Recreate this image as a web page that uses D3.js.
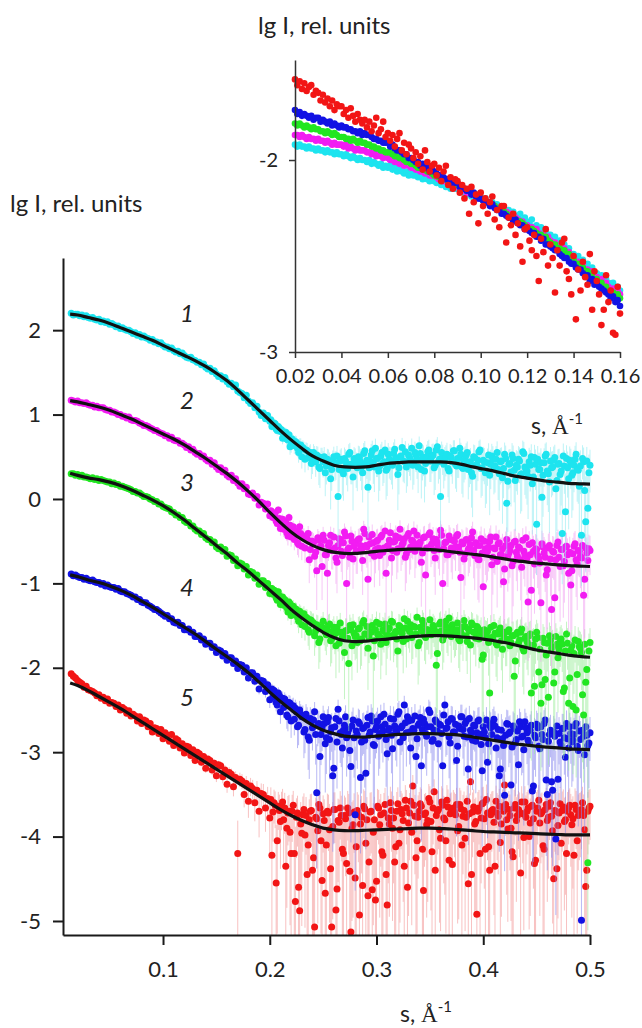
<!DOCTYPE html>
<html>
<head>
<meta charset="utf-8">
<script src="https://cdn.jsdelivr.net/npm/d3@7"></script>
<style>
  body { margin: 0; background: #fff; }
  svg { display: block; }
  text { font-family: Lato, "Open Sans", sans-serif; fill: #222; }
</style>
</head>
<body>
<svg id="chart" width="642" height="1028"></svg>
<script>
// ---- Scattering curves, lg I versus s (Å^-1) ----
// Main panel: measured points on a regular s grid, curves shifted apart for clarity.
const mainStart = 0.014, mainStep = 0.002;
const main1 = [
  2.20,2.18,2.19,2.19,2.17, 2.18,2.16,2.17,2.15,2.14, 2.15,2.13,2.12,2.13,2.10, 2.11,2.09,2.10,2.07,2.08,
  2.06,2.04,2.05,2.02,2.03, 2.01,2.00,2.00,1.98,1.96, 1.97,1.94,1.95,1.92,1.93, 1.91,1.90,1.88,1.89,1.86,
  1.86,1.84,1.85,1.82,1.80, 1.80,1.78,1.79,1.76,1.74, 1.75,1.72,1.73,1.70,1.68, 1.67,1.68,1.65,1.64,1.62,
  1.62,1.59,1.60,1.56,1.54, 1.55,1.51,1.52,1.48,1.45, 1.46,1.42,1.44,1.39,1.36, 1.37,1.33,1.35,1.28,1.26,
  1.25,1.20,1.23,1.16,1.13, 1.14,1.08,1.10,1.03,0.99, 1.02,0.95,0.99,0.92,0.86, 0.90,0.83,0.86,0.80,0.72,
  0.79,0.71,0.76,0.64,0.69, 0.68,0.60,0.64,0.50,0.59, 0.58,0.49,0.55,0.46,0.52, 0.52,0.38,0.49,0.44,0.31,
  0.47,0.41,0.35,0.50,0.43, 0.03,0.45,0.33,0.48,0.40, 0.53,0.41,0.26,0.46,0.37, 0.49,0.38,0.54,0.42,0.14,
  0.45,0.57,0.38,0.48,0.33, 0.51,0.42,0.58,0.36,0.47, 0.43,0.54,0.47,0.29,0.50, 0.61,0.44,0.38,0.52,0.46,
  0.40,0.55,0.47,0.63,0.35, 0.49,0.42,0.56,0.45,0.51, 0.37,0.58,0.44,0.03,0.50, 0.46,0.53,0.33,0.49,0.57,
  0.41,0.48,0.60,0.38,0.45, 0.52,0.35,0.44,0.27,0.49, 0.40,0.56,0.36,0.46,0.31, 0.43,0.28,0.51,0.38,0.47,
  0.35,0.44,0.25,0.53,-0.05, 0.41,0.32,0.48,0.22,0.38, 0.45,0.30,0.54,0.36,0.27, 0.40,0.18,0.49,-0.30,0.35,
  0.43,0.28,0.51,0.33,0.20, 0.37,0.46,0.12,0.41,0.29, -0.41,0.39,0.48,0.24,0.42, 0.31,0.47,0.35,0.15,-0.43,
  0.44,-0.27,-0.11,0.40
];
const main2 = [
  1.17,1.16,1.15,1.16,1.14, 1.14,1.13,1.14,1.12,1.11, 1.11,1.09,1.10,1.08,1.08, 1.08,1.06,1.05,1.05,1.03,
  1.03,1.02,1.00,1.00,0.98, 0.98,0.96,0.97,0.94,0.93, 0.93,0.92,0.90,0.89,0.87, 0.87,0.86,0.84,0.83,0.81,
  0.81,0.79,0.78,0.77,0.75, 0.75,0.72,0.73,0.70,0.69, 0.69,0.66,0.66,0.64,0.61, 0.62,0.58,0.59,0.55,0.53,
  0.54,0.50,0.51,0.47,0.45, 0.46,0.41,0.43,0.38,0.35, 0.37,0.32,0.34,0.28,0.26, 0.28,0.22,0.24,0.19,0.15,
  0.18,0.12,0.14,0.06,0.05, 0.07,0.01,0.03,-0.07,-0.04, -0.05,-0.12,-0.06,-0.20,-0.15, -0.18,-0.26,-0.13,-0.35,-0.24,
  -0.27,-0.40,-0.22,-0.45,-0.33, -0.38,-0.52,-0.33,-0.56,-0.44, -0.47,-0.41,-0.60,-0.50,-0.68, -0.85,-0.49,-0.56,-0.43,-0.66,
  -0.88,-0.52,-0.61,-0.45,-0.70, -0.55,-0.48,-0.67,-0.39,-1.00, -0.58,-0.44,-0.71,-0.51,-0.62, -0.47,-0.60,-0.36,-0.55,-0.95,
  -0.53,-0.42,-0.68,-0.50,-0.58, -0.45,-0.63,-0.38,-0.56,-0.49, -0.70,-0.51,-0.44,-0.59,-0.36, -0.54,-0.47,-0.65,-0.41,-0.57,
  -0.50,-0.62,-0.43,-0.55,-0.75, -0.46,-0.90,-0.58,-0.40,-0.53, -0.61,-0.48,-0.56,-0.37,-1.00, -0.52,-0.66,-0.44,-0.58,-0.49,
  -0.57,-0.42,-0.63,-0.51,-0.71, -0.48,-0.60,-0.54,-0.39,-0.67, -0.55,-0.72,-0.47,-1.04,-0.59, -0.62,-0.50,-0.78,-0.58,-0.45,
  -0.53,-0.66,-0.59,-0.83,-0.48, -0.64,-0.55,-0.74,-0.50,-0.68, -0.58,-0.81,-0.62,-0.46,-1.22, -0.66,-0.52,-0.77,-0.60,-0.70,
  -1.23,-0.57,-0.69,-0.84,-0.55, -1.31,-0.63,-0.72,-0.51,-0.80, -0.60,-0.74,-0.56,-0.88,-1.02, -0.65,-0.53,-0.77,-0.62,-0.70,
  -1.14,-0.58,-0.73,-0.61
];
const main3 = [
  0.30,0.30,0.28,0.29,0.27, 0.28,0.26,0.26,0.25,0.24, 0.25,0.23,0.24,0.22,0.23, 0.22,0.21,0.20,0.20,0.18,
  0.19,0.17,0.17,0.15,0.15, 0.14,0.13,0.12,0.11,0.09, 0.09,0.07,0.07,0.05,0.03, 0.03,0.02,0.00,-0.01,-0.03,
  -0.03,-0.06,-0.06,-0.09,-0.10, -0.11,-0.12,-0.15,-0.16,-0.19, -0.19,-0.22,-0.22,-0.26,-0.28, -0.28,-0.32,-0.32,-0.36,-0.38,
  -0.38,-0.42,-0.41,-0.46,-0.48, -0.48,-0.52,-0.51,-0.57,-0.59, -0.57,-0.62,-0.60,-0.68,-0.66, -0.67,-0.73,-0.71,-0.79,-0.76,
  -0.77,-0.83,-0.80,-0.90,-0.86, -0.87,-0.94,-0.90,-1.01,-0.97, -0.97,-1.05,-1.00,-1.12,-1.06, -1.08,-1.17,-1.10,-1.25,-1.16,
  -1.19,-1.29,-1.22,-1.38,-1.27, -1.30,-1.40,-1.33,-1.49,-1.36, -1.40,-1.55,-1.43,-1.47,-1.62, -1.49,-1.70,-1.52,-1.45,-1.58,
  -1.55,-1.48,-1.66,-1.52,-1.74, -1.58,-1.47,-1.64,-1.82,-1.56, -1.95,-1.55,-1.49,-1.63,-1.70, -1.53,-1.66,-1.44,-1.60,-1.77,
  -1.57,-1.50,-1.68,-1.46,-1.62, -1.72,-1.55,-1.48,-1.61,-1.53, -1.45,-1.63,-1.57,-1.80,-1.51, -1.59,-1.42,-1.66,-1.54,-1.49,
  -1.61,-1.52,-1.40,-1.70,-1.56, -1.48,-1.64,-1.55,-1.43,-1.60, -1.53,-1.97,-1.58,-1.46,-1.67, -1.50,-1.57,-1.41,-1.63,-1.55,
  -1.59,-1.47,-1.68,-1.52,-1.44, -1.62,-1.54,-1.73,-1.49,-1.58, -1.51,-1.66,-1.56,-1.85,-1.61, -1.57,-2.30,-1.64,-1.50,-1.71,
  -1.60,-1.53,-1.78,-1.58,-1.66, -1.55,-1.70,-1.62,-1.92,-1.58, -1.67,-1.54,-1.80,-1.63,-1.72, -1.60,-1.75,-2.22,-1.58,-2.05,
  -2.42,-1.65,-2.14,-1.71,-1.62, -1.77,-2.18,-1.63,-1.88,-1.69, -1.72,-2.24,-1.60,-2.42,-1.79, -2.46,-1.67,-2.08,-1.75,-1.82,
  -2.56,-2.17,-4.31,-1.70
];
const main4 = [
  -0.89,-0.91,-0.90,-0.92,-0.93, -0.93,-0.95,-0.94,-0.96,-0.97, -0.96,-0.98,-0.99,-0.99,-1.01, -1.00,-1.03,-1.02,-1.04,-1.05,
  -1.05,-1.07,-1.06,-1.09,-1.10, -1.10,-1.12,-1.13,-1.14,-1.16, -1.16,-1.19,-1.19,-1.22,-1.23, -1.23,-1.26,-1.27,-1.29,-1.31,
  -1.31,-1.33,-1.35,-1.37,-1.39, -1.38,-1.42,-1.42,-1.46,-1.47, -1.46,-1.50,-1.50,-1.55,-1.55, -1.54,-1.58,-1.58,-1.63,-1.63,
  -1.62,-1.67,-1.66,-1.72,-1.71, -1.71,-1.76,-1.75,-1.82,-1.79, -1.80,-1.86,-1.83,-1.91,-1.88, -1.88,-1.95,-1.92,-2.01,-1.96,
  -1.97,-2.05,-2.00,-2.12,-2.06, -2.06,-2.16,-2.10,-2.25,-2.15, -2.16,-2.28,-2.20,-2.38,-2.25, -2.27,-2.41,-2.30,-2.52,-2.36,
  -2.37,-2.56,-2.41,-2.63,-2.45, -2.48,-2.70,-2.50,-2.58,-2.76, -2.55,-2.82,-2.60,-2.71,-2.52, -3.48,-2.66,-2.79,-2.58,-2.90,
  -2.64,-2.85,-2.71,-3.19,-2.60, -2.49,-2.77,-2.95,-2.68,-2.83, -2.73,-3.17,-2.62,-3.74,-2.79, -2.66,-2.88,-2.71,-3.25,-2.59,
  -2.76,-2.63,-2.92,-2.70,-2.81, -2.58,-2.75,-2.67,-3.02,-2.72, -2.80,-2.61,-2.74,-2.55,-2.88, -2.69,-2.44,-2.77,-2.63,-2.95,
  -2.72,-2.57,-2.84,-2.66,-3.16, -2.61,-2.78,-2.70,-2.53,-2.87, -2.74,-2.64,-2.90,-2.68,-3.16, -2.44,-2.71,-2.82,-2.60,-2.76,
  -2.67,-2.93,-2.72,-2.58,-2.81, -2.63,-3.20,-2.74,-2.86,-2.69, -2.77,-2.62,-2.91,-2.70,-2.83, -3.12,-2.68,-2.79,-2.61,-2.95,
  -2.73,-3.20,-2.84,-3.51,-2.66, -2.78,-3.39,-2.69,-2.89,-2.75, -2.64,-2.82,-2.97,-2.71,-2.86, -2.74,-3.46,-2.80,-2.67,-2.93,
  -2.70,-2.85,-2.62,-3.50,-2.79, -3.35,-2.76,-4.03,-3.32,-2.88, -2.72,-2.83,-2.66,-2.95,-2.78, -2.86,-2.69,-2.93,-2.75,-4.99,
  -2.81,-2.70,-2.92,-2.77
];
const main5 = [
  -2.07,-2.10,-2.12,-2.15,-2.17, -2.19,-2.23,-2.22,-2.26,-2.27, -2.28,-2.30,-2.33,-2.32,-2.36, -2.35,-2.39,-2.37,-2.42,-2.41,
  -2.42,-2.46,-2.44,-2.50,-2.47, -2.49,-2.54,-2.51,-2.57,-2.55, -2.57,-2.63,-2.58,-2.66,-2.62, -2.63,-2.70,-2.66,-2.76,-2.71,
  -2.72,-2.78,-2.73,-2.84,-2.77, -2.80,-2.87,-2.79,-2.92,-2.84, -2.86,-2.95,-2.90,-3.01,-2.93, -2.94,-3.04,-2.97,-3.10,-3.00,
  -3.02,-3.12,-3.05,-3.19,-3.08, -3.10,-3.21,-3.13,-3.28,-3.15, -3.16,-3.29,-3.21,-3.38,-3.24, -3.26,-3.41,-3.30,-4.20,-3.32,
  -3.34,-3.50,-3.37,-3.58,-3.40, -3.43,-3.60,-3.45,-3.70,-3.49, -3.50,-3.66,-3.55,-3.78,-4.22, -3.60,-4.55,-3.64,-3.82,-3.59,
  -3.66,-3.90,-3.70,-4.20,-3.63, -4.77,-3.72,-4.88,-3.96,-3.68, -3.75,-4.10,-3.70,-4.40,-5.07, -3.79,-3.62,-4.05,-3.73,-4.67,
  -3.70,-3.92,-5.07,-3.68,-4.87, -3.81,-3.66,-4.15,-3.75,-4.32, -3.72,-5.13,-3.86,-4.49,-3.69, -4.93,-3.77,-3.64,-4.08,-4.70,
  -3.71,-4.63,-3.80,-4.53,-3.66, -3.74,-4.22,-3.62,-4.81,-3.85, -3.69,-3.78,-4.12,-3.61,-3.92, -3.73,-4.35,-3.66,-3.84,-3.58,
  -3.40,-3.76,-4.05,-3.70,-3.64, -4.64,-3.72,-3.81,-3.59,-4.18, -3.47,-3.75,-3.68,-4.02,-3.63, -3.80,-3.57,-4.28,-3.71,-3.66,
  -3.74,-3.93,-3.62,-4.10,-3.69, -3.77,-4.56,-3.35,-3.71,-3.85, -4.92,-3.66,-3.78,-3.60,-4.15, -3.72,-4.40,-3.69,-3.83,-3.58,
  -3.76,-4.07,-3.65,-3.39,-3.80, -3.68,-3.90,-4.24,-3.62,-3.75, -3.71,-3.59,-4.01,-3.77,-3.66, -3.84,-3.63,-4.32,-3.70,-3.57,
  -3.73,-4.11,-3.68,-3.81,-3.64, -3.76,-4.50,-3.70,-3.87,-3.61, -3.69,-3.82,-4.20,-3.66,-3.74, -3.79,-3.63,-4.05,-3.72,-3.68,
  -3.75,-4.59,-3.70,-3.64
];

// Wide-angle range measured twice as densely: extra points between the grid above
const wideStart = 0.201, wideStep = 0.002;
const wide1 = [
  0.94,0.87,0.89,0.81,0.84, 0.82,0.74,0.79,0.70,0.62, 0.71,0.63,0.67,0.55,0.64, 0.61,0.47,0.57,0.53,0.42,
  0.55,0.44,0.51,0.36,0.49, 0.50,0.39,0.46,0.24,0.44, 0.42,0.51,0.35,0.47,0.30, 0.45,0.36,0.55,0.41,0.48,
  0.39,0.50,0.44,0.31,0.57, 0.46,0.37,0.52,0.43,0.60, 0.48,0.39,0.55,0.44,0.34, 0.53,0.46,0.40,0.59,0.48,
  0.37,0.51,0.45,0.56,0.42, 0.49,0.60,0.43,0.52,0.38, 0.54,0.46,0.33,0.50,0.58, 0.45,0.52,0.40,0.62,0.47,
  0.55,0.41,0.49,0.36,0.51, 0.44,0.57,0.39,0.48,0.53, 0.36,0.47,0.55,0.42,0.31, 0.50,0.40,0.46,0.58,0.37,
  0.44,0.33,0.52,0.41,0.47, 0.39,0.55,0.30,0.45,0.36, 0.48,0.21,0.42,0.52,0.34, 0.40,0.47,0.29,0.56,0.38,
  0.33,0.44,0.50,0.26,0.41, 0.47,0.35,0.02,0.43,0.53, 0.30,0.45,0.38,0.49,0.22, 0.42,0.33,0.51,-0.15,0.37,
  0.46,0.28,0.40,0.53,0.34, 0.39,0.48,0.10,0.45,0.31
];
const wide2 = [
  -0.14,-0.22,-0.17,-0.29,-0.23, -0.25,-0.36,-0.28,-0.44,-0.31, -0.35,-0.48,-0.39,-0.54,-0.41, -0.45,-0.58,-0.47,-0.72,-0.50,
  -0.52,-0.63,-0.46,-0.57,-0.80, -0.49,-0.66,-0.55,-0.43,-0.61, -0.58,-0.75,-0.47,-0.62,-0.52, -0.44,-0.60,-0.69,-0.50,-0.56,
  -0.62,-0.48,-0.55,-0.73,-0.41, -0.57,-0.45,-0.64,-0.52,-0.60, -0.49,-0.67,-0.43,-0.58,-0.88, -0.55,-0.40,-0.61,-0.50,-0.63,
  -0.46,-0.58,-0.52,-0.69,-0.44, -0.60,-0.49,-0.38,-0.56,-0.53, -0.51,-0.64,-0.45,-0.58,-0.42, -0.55,-0.47,-0.70,-0.52,-0.60,
  -0.43,-0.59,-0.51,-0.66,-0.48, -0.62,-0.50,-0.44,-0.57,-0.93, -0.53,-0.65,-0.49,-0.58,-0.46, -0.61,-0.52,-0.71,-0.55,-0.64,
  -0.50,-0.63,-0.57,-0.45,-0.69, -0.59,-0.74,-0.52,-0.66,-0.98, -0.55,-0.68,-0.61,-0.79,-0.51, -0.63,-0.57,-0.72,-0.49,-0.66,
  -0.70,-0.54,-1.08,-0.62,-0.59, -0.67,-0.76,-0.53,-0.64,-0.90, -0.58,-0.71,-0.62,-1.17,-0.55, -0.69,-0.60,-0.79,-0.57,-0.66,
  -0.63,-0.85,-0.56,-0.72,-0.61, -0.68,-0.55,-0.95,-0.64,-0.59
];
const wide3 = [
  -1.06,-1.13,-1.09,-1.20,-1.15, -1.17,-1.26,-1.21,-1.34,-1.24, -1.28,-1.37,-1.31,-1.45,-1.35, -1.38,-1.51,-1.41,-1.58,-1.44,
  -1.47,-1.56,-1.50,-1.66,-1.52, -1.54,-1.61,-1.49,-1.68,-1.57, -1.60,-1.52,-1.71,-1.58,-1.63, -1.56,-1.65,-1.50,-1.74,-1.59,
  -1.62,-1.54,-1.68,-1.47,-1.60, -1.51,-1.64,-1.58,-1.86,-1.55, -1.60,-1.48,-1.65,-1.57,-1.70, -1.54,-1.62,-1.46,-1.59,-1.66,
  -1.50,-1.58,-1.69,-1.53,-1.45, -1.57,-1.64,-1.51,-1.60,-1.74, -1.52,-1.44,-1.62,-1.55,-1.58, -1.61,-1.50,-1.57,-1.83,-1.48,
  -1.56,-1.63,-1.45,-1.59,-1.52, -1.49,-1.60,-1.55,-1.66,-1.58, -1.62,-1.51,-1.69,-1.56,-1.47, -1.58,-1.65,-1.53,-1.61,-1.90,
  -1.55,-1.62,-1.70,-1.52,-1.64, -1.59,-1.73,-1.56,-1.68,-1.61, -1.66,-1.57,-1.74,-1.62,-2.10, -1.60,-1.71,-1.58,-1.77,-1.65,
  -1.69,-1.62,-2.30,-1.73,-1.66, -1.64,-1.78,-2.20,-1.70,-1.85, -2.35,-1.68,-1.75,-2.05,-1.72, -1.78,-1.66,-2.28,-1.80,-1.71,
  -2.12,-1.74,-1.83,-2.50,-1.69, -1.77,-2.32,-1.72,-2.02,-1.80
];
const wide4 = [
  -2.26,-2.35,-2.29,-2.44,-2.33, -2.36,-2.47,-2.40,-2.58,-2.42, -2.46,-2.61,-2.52,-2.68,-2.55, -2.57,-2.73,-2.60,-2.86,-2.63,
  -2.62,-2.79,-2.68,-3.05,-2.71, -2.66,-2.83,-2.59,-2.76,-3.28, -2.70,-2.88,-2.63,-2.79,-2.74, -2.58,-2.77,-2.98,-2.69,-2.83,
  -2.75,-2.64,-3.30,-2.72,-2.86, -2.68,-2.80,-2.57,-2.91,-2.73, -2.63,-2.78,-2.70,-2.55,-2.85, -2.74,-2.60,-2.96,-2.69,-2.77,
  -2.52,-2.71,-2.83,-2.65,-2.58, -2.76,-2.62,-2.74,-3.05,-2.68, -2.59,-2.73,-2.66,-2.81,-2.50, -2.70,-2.85,-2.62,-2.75,-2.67,
  -2.78,-2.56,-2.72,-2.64,-2.89, -2.61,-2.76,-3.10,-2.69,-2.58, -2.73,-2.66,-2.82,-2.60,-2.77, -2.68,-2.87,-2.63,-2.79,-3.22,
  -2.76,-2.62,-2.90,-2.71,-2.65, -2.69,-2.83,-3.28,-2.74,-2.92, -2.80,-2.67,-2.76,-2.94,-2.72, -2.85,-3.15,-2.70,-2.81,-2.64,
  -2.77,-2.89,-2.68,-3.40,-2.83, -2.71,-2.96,-2.79,-2.66,-3.33, -2.87,-2.74,-3.45,-2.81,-2.69, -2.78,-2.92,-2.72,-3.06,-2.84,
  -2.70,-2.88,-2.79,-2.66,-2.98, -2.85,-2.74,-3.03,-2.80,-2.89
];
const wide5 = [
  -3.56,-3.71,-3.63,-4.05,-3.69, -3.64,-3.80,-4.35,-3.72,-3.95, -3.70,-4.20,-3.77,-4.60,-3.85, -3.74,-3.98,-4.45,-3.80,-3.69,
  -4.25,-3.77,-3.93,-3.66,-4.52, -3.81,-4.10,-3.72,-4.38,-3.88, -3.68,-4.62,-3.83,-3.75,-4.20, -3.79,-3.66,-4.41,-3.90,-3.71,
  -4.12,-3.74,-3.85,-4.58,-3.67, -3.80,-4.30,-3.70,-3.95,-4.75, -3.64,-3.86,-4.18,-3.72,-4.45, -3.78,-3.60,-3.90,-4.30,-3.70,
  -4.08,-3.68,-3.81,-3.57,-4.60, -3.72,-3.95,-3.63,-4.25,-3.77, -3.61,-4.15,-3.74,-3.86,-3.55, -3.82,-3.66,-4.40,-3.70,-3.92,
  -3.59,-3.78,-4.05,-3.65,-3.73, -4.33,-3.71,-3.62,-3.88,-3.67, -3.76,-4.02,-3.58,-3.73,-4.45, -3.65,-3.82,-3.70,-4.20,-3.61,
  -3.79,-3.56,-4.12,-3.74,-3.68, -4.35,-3.72,-3.64,-3.85,-3.70, -3.62,-3.91,-3.75,-4.18,-3.66, -3.81,-3.68,-4.43,-3.73,-3.59,
  -3.70,-4.00,-3.64,-3.79,-4.28, -3.66,-3.84,-3.71,-4.15,-3.62, -3.77,-3.60,-3.93,-3.69,-4.38, -3.72,-4.08,-3.65,-3.80,-3.70,
  -3.63,-3.86,-4.22,-3.68,-3.75, -3.71,-3.60,-3.92,-4.40,-3.66
];

// Model curves (black lines) at these s values
const fitS = [0.013, 0.02, 0.03, 0.04, 0.05, 0.06, 0.07, 0.08, 0.09, 0.10, 0.11, 0.12, 0.13, 0.14, 0.15, 0.16, 0.17,
  0.18, 0.19, 0.20, 0.21, 0.22, 0.23, 0.24, 0.25, 0.26, 0.27, 0.28, 0.29, 0.30, 0.31, 0.32, 0.33, 0.34, 0.35, 0.36,
  0.37, 0.38, 0.39, 0.40, 0.41, 0.42, 0.43, 0.44, 0.45, 0.46, 0.47, 0.48, 0.49, 0.50];
const fit1 = [2.19, 2.18, 2.15, 2.12, 2.08, 2.03, 1.98, 1.93, 1.88, 1.82, 1.76, 1.70, 1.64, 1.57, 1.49, 1.40, 1.29,
  1.17, 1.05, 0.93, 0.81, 0.70, 0.60, 0.51, 0.45, 0.40, 0.38, 0.375, 0.38, 0.40, 0.42, 0.43, 0.44, 0.44, 0.44, 0.44,
  0.43, 0.41, 0.38, 0.355, 0.33, 0.30, 0.27, 0.25, 0.23, 0.21, 0.20, 0.185, 0.18, 0.175];
const fit2 = [1.165, 1.15, 1.12, 1.09, 1.05, 1.00, 0.95, 0.89, 0.83, 0.77, 0.71, 0.64, 0.56, 0.48, 0.39, 0.30, 0.20,
  0.09, -0.03, -0.16, -0.28, -0.39, -0.48, -0.55, -0.60, -0.63, -0.645, -0.645, -0.635, -0.62, -0.61, -0.60, -0.595,
  -0.595, -0.60, -0.61, -0.625, -0.64, -0.655, -0.67, -0.69, -0.71, -0.73, -0.745, -0.76, -0.77, -0.78, -0.79, -0.795, -0.80];
const fit3 = [0.305, 0.28, 0.25, 0.23, 0.20, 0.16, 0.11, 0.05, -0.01, -0.08, -0.16, -0.25, -0.35, -0.45, -0.55, -0.65,
  -0.76, -0.86, -0.97, -1.08, -1.19, -1.31, -1.41, -1.50, -1.58, -1.64, -1.68, -1.69, -1.685, -1.67, -1.66, -1.645,
  -1.635, -1.625, -1.62, -1.62, -1.625, -1.635, -1.645, -1.66, -1.68, -1.70, -1.73, -1.76, -1.79, -1.81, -1.83, -1.85,
  -1.865, -1.875];
const fit4 = [-0.90, -0.92, -0.96, -0.99, -1.03, -1.08, -1.14, -1.21, -1.28, -1.36, -1.44, -1.52, -1.60, -1.69, -1.78,
  -1.87, -1.96, -2.06, -2.17, -2.29, -2.40, -2.50, -2.60, -2.68, -2.74, -2.78, -2.81, -2.82, -2.82, -2.81, -2.80, -2.79,
  -2.785, -2.78, -2.78, -2.785, -2.79, -2.80, -2.82, -2.84, -2.86, -2.88, -2.90, -2.915, -2.93, -2.94, -2.95, -2.96,
  -2.965, -2.97];
const fit5 = [-2.18, -2.21, -2.27, -2.34, -2.41, -2.48, -2.56, -2.64, -2.72, -2.80, -2.88, -2.96, -3.04, -3.12, -3.20,
  -3.28, -3.36, -3.44, -3.52, -3.60, -3.68, -3.75, -3.81, -3.86, -3.90, -3.92, -3.93, -3.93, -3.925, -3.92, -3.915,
  -3.91, -3.905, -3.90, -3.90, -3.905, -3.91, -3.92, -3.93, -3.94, -3.945, -3.95, -3.955, -3.96, -3.965, -3.97, -3.975,
  -3.98, -3.98, -3.98];

// Noise level (lg sigma) of each curve at these s values; sets the error bar lengths
const sigmaS = [0, 0.1, 0.2, 0.3, 0.4, 0.5];
const sigma1 = [-0.15, -0.18, -0.12, 0.08, 0.10, 0.12];
const sigma2 = [-1.15, -1.23, -1.12, -0.92, -0.88, -0.92];
const sigma3 = [-2.00, -2.08, -2.04, -1.93, -1.92, -2.02];
const sigma4 = [-3.20, -3.36, -3.08, -2.99, -2.99, -3.04];
const sigma5 = [-4.10, -4.20, -3.97, -3.86, -3.86, -3.86];
const barCap = [0.6, 0.7, 0.8, 0.9, 1.1];

// Inset: unshifted low-angle part
const insetStart = 0.02, insetStep = 0.001;
const inset1 = [
  -1.92,-1.93,-1.92,-1.93,-1.93,-1.94,-1.93,-1.94,-1.94,-1.95, -1.94,-1.95,-1.95,-1.96,-1.95,-1.96,-1.96,-1.97,-1.96,-1.97,
  -1.97,-1.98,-1.97,-1.98,-1.99,-1.98,-1.99,-2.00,-1.99,-2.00, -2.00,-2.01,-2.00,-2.02,-2.01,-2.02,-2.03,-2.02,-2.04,-2.03,
  -2.04,-2.03,-2.05,-2.04,-2.06,-2.05,-2.06,-2.07,-2.06,-2.08, -2.07,-2.08,-2.08,-2.09,-2.08,-2.10,-2.09,-2.10,-2.11,-2.10,
  -2.11,-2.12,-2.11,-2.13,-2.12,-2.14,-2.13,-2.15,-2.14,-2.15, -2.15,-2.16,-2.16,-2.17,-2.18,-2.17,-2.19,-2.18,-2.20,-2.19,
  -2.20,-2.21,-2.20,-2.22,-2.23,-2.22,-2.24,-2.23,-2.25,-2.26, -2.25,-2.27,-2.26,-2.28,-2.27,-2.29,-2.30,-2.28,-2.31,-2.30,
  -2.32,-2.33,-2.31,-2.35,-2.34,-2.36,-2.35,-2.38,-2.37,-2.39, -2.39,-2.41,-2.40,-2.43,-2.42,-2.45,-2.44,-2.47,-2.46,-2.49,
  -2.49,-2.51,-2.50,-2.53,-2.52,-2.55,-2.54,-2.57,-2.56,-2.59, -2.59,-2.61,-2.60,-2.63,-2.62,-2.64,-2.66,-2.64,-2.67,-2.66,
  -2.68
];
const inset2 = [
  -1.87,-1.87,-1.88,-1.87,-1.88,-1.89,-1.88,-1.89,-1.89,-1.90, -1.89,-1.90,-1.90,-1.91,-1.90,-1.91,-1.92,-1.91,-1.92,-1.92,
  -1.92,-1.93,-1.92,-1.94,-1.93,-1.94,-1.95,-1.94,-1.95,-1.95, -1.95,-1.96,-1.96,-1.97,-1.96,-1.98,-1.97,-1.98,-1.99,-1.98,
  -1.99,-2.00,-2.00,-2.01,-2.01,-2.02,-2.01,-2.03,-2.02,-2.03, -2.04,-2.04,-2.05,-2.05,-2.06,-2.06,-2.07,-2.06,-2.08,-2.08,
  -2.08,-2.09,-2.10,-2.10,-2.11,-2.11,-2.12,-2.12,-2.13,-2.14, -2.14,-2.15,-2.15,-2.16,-2.17,-2.17,-2.18,-2.18,-2.19,-2.20,
  -2.20,-2.21,-2.21,-2.22,-2.23,-2.23,-2.24,-2.25,-2.25,-2.26, -2.27,-2.27,-2.29,-2.28,-2.30,-2.30,-2.31,-2.32,-2.32,-2.34,
  -2.34,-2.35,-2.35,-2.37,-2.36,-2.38,-2.39,-2.39,-2.41,-2.40, -2.42,-2.43,-2.43,-2.45,-2.45,-2.47,-2.46,-2.49,-2.48,-2.51,
  -2.51,-2.53,-2.53,-2.55,-2.54,-2.57,-2.57,-2.59,-2.58,-2.61, -2.61,-2.63,-2.62,-2.65,-2.64,-2.66,-2.68,-2.67,-2.69,-2.68,
  -2.70
];
const inset3 = [
  -1.81,-1.82,-1.81,-1.82,-1.83,-1.82,-1.83,-1.84,-1.83,-1.84, -1.84,-1.85,-1.85,-1.86,-1.85,-1.86,-1.87,-1.86,-1.87,-1.88,
  -1.88,-1.88,-1.89,-1.89,-1.90,-1.89,-1.90,-1.91,-1.90,-1.91, -1.91,-1.92,-1.92,-1.93,-1.93,-1.94,-1.94,-1.95,-1.95,-1.96,
  -1.96,-1.96,-1.97,-1.98,-1.98,-1.99,-1.99,-2.00,-2.01,-2.01, -2.02,-2.02,-2.03,-2.04,-2.04,-2.05,-2.05,-2.06,-2.06,-2.07,
  -2.08,-2.08,-2.09,-2.09,-2.10,-2.10,-2.11,-2.11,-2.12,-2.13, -2.13,-2.14,-2.15,-2.15,-2.16,-2.16,-2.17,-2.18,-2.18,-2.19,
  -2.20,-2.21,-2.21,-2.22,-2.23,-2.23,-2.24,-2.25,-2.26,-2.26, -2.27,-2.28,-2.29,-2.29,-2.30,-2.31,-2.32,-2.32,-2.33,-2.34,
  -2.35,-2.36,-2.36,-2.37,-2.38,-2.39,-2.39,-2.41,-2.40,-2.42, -2.43,-2.44,-2.44,-2.46,-2.46,-2.48,-2.47,-2.50,-2.49,-2.52,
  -2.52,-2.54,-2.54,-2.56,-2.56,-2.58,-2.58,-2.60,-2.59,-2.62, -2.62,-2.64,-2.64,-2.66,-2.66,-2.68,-2.69,-2.69,-2.71,-2.70,
  -2.72
];
const inset4 = [
  -1.74,-1.76,-1.75,-1.77,-1.76,-1.77,-1.78,-1.77,-1.79,-1.78, -1.78,-1.80,-1.79,-1.80,-1.81,-1.80,-1.82,-1.81,-1.82,-1.83,
  -1.82,-1.83,-1.83,-1.84,-1.84,-1.85,-1.85,-1.86,-1.85,-1.87, -1.86,-1.87,-1.87,-1.88,-1.89,-1.89,-1.90,-1.90,-1.91,-1.91,
  -1.91,-1.93,-1.92,-1.94,-1.95,-1.95,-1.96,-1.97,-1.97,-1.99, -1.99,-2.00,-2.01,-2.01,-2.03,-2.02,-2.04,-2.04,-2.06,-2.05,
  -2.06,-2.07,-2.08,-2.08,-2.09,-2.10,-2.10,-2.11,-2.12,-2.12, -2.12,-2.14,-2.14,-2.15,-2.16,-2.16,-2.18,-2.17,-2.19,-2.20,
  -2.20,-2.21,-2.22,-2.22,-2.24,-2.23,-2.25,-2.26,-2.26,-2.28, -2.28,-2.29,-2.30,-2.30,-2.32,-2.31,-2.33,-2.34,-2.34,-2.36,
  -2.36,-2.37,-2.38,-2.38,-2.40,-2.40,-2.42,-2.41,-2.44,-2.44, -2.45,-2.46,-2.47,-2.47,-2.49,-2.50,-2.51,-2.51,-2.53,-2.54,
  -2.54,-2.56,-2.57,-2.57,-2.59,-2.60,-2.60,-2.63,-2.62,-2.65, -2.64,-2.66,-2.67,-2.68,-2.69,-2.70,-2.72,-2.71,-2.74,-2.73,
  -2.76
];
const inset5 = [
  -1.58,-1.61,-1.59,-1.63,-1.60,-1.64,-1.62,-1.61,-1.66,-1.64, -1.65,-1.69,-1.66,-1.70,-1.68,-1.72,-1.69,-1.74,-1.71,-1.72,
  -1.72,-1.76,-1.74,-1.78,-1.73,-1.77,-1.80,-1.76,-1.79,-1.81, -1.79,-1.83,-1.80,-1.85,-1.82,-1.78,-1.86,-1.84,-1.80,-1.88,
  -1.86,-1.90,-1.87,-1.93,-1.89,-1.86,-1.95,-1.91,-1.97,-1.92, -1.94,-1.99,-1.96,-2.02,-1.98,-2.05,-1.95,-2.01,-2.06,-2.03,
  -2.02,-2.08,-2.04,-2.11,-2.06,-2.03,-2.13,-2.09,-2.15,-2.10, -2.11,-2.17,-2.13,-2.20,-2.15,-2.28,-2.14,-2.22,-2.18,-2.33,
  -2.17,-2.24,-2.20,-2.28,-2.22,-2.19,-2.31,-2.26,-2.35,-2.24, -2.24,-2.43,-2.30,-2.34,-2.28,-2.39,-2.33,-2.45,-2.53,-2.36,
  -2.35,-2.42,-2.47,-2.39,-2.50,-2.63,-2.41,-2.48,-2.36,-2.55, -2.44,-2.51,-2.69,-2.47,-2.55,-2.43,-2.41,-2.58,-2.62,-2.70,
  -2.50,-2.83,-2.57,-2.68,-2.53,-2.61,-2.65,-2.49,-2.78,-2.58, -2.63,-2.70,-2.86,-2.78,-2.60,-2.74,-2.68,-2.90,-2.91,-2.66,
  -2.80
];

const mainTicksY = [-5, -4, -3, -2, -1, 0, 1, 2];
const mainTicksX = [0.1, 0.2, 0.3, 0.4, 0.5];
const insetTicksY = [-2, -3];
const insetTicksX = [0.02, 0.04, 0.06, 0.08, 0.10, 0.12, 0.14, 0.16];
const curveLabels = ["1", "2", "3", "4", "5"];
const axisTitleY = "lg I, rel. units";

const dotColor = ["#1de4ef", "#f21cf2", "#22e622", "#1212e4", "#f21515"];
const barColor = ["#93edf3", "#f3a3f3", "#9eee9e", "#8c8cf0", "#f59a9a"];

const series = [
  { pts: main1, wide: wide1, fit: fit1, sig: sigma1, inset: inset1 },
  { pts: main2, wide: wide2, fit: fit2, sig: sigma2, inset: inset2 },
  { pts: main3, wide: wide3, fit: fit3, sig: sigma3, inset: inset3 },
  { pts: main4, wide: wide4, fit: fit4, sig: sigma4, inset: inset4 },
  { pts: main5, wide: wide5, fit: fit5, sig: sigma5, inset: inset5 }
];

const svg = d3.select("#chart");

// ---------- main panel ----------
const x = d3.scaleLinear().domain([0.0063, 0.5]).range([63, 590]);
const y = d3.scaleLinear().domain([-5.166, 2.855]).range([935, 258]);
const yMin = y.domain()[0], yMax = y.domain()[1];

const gMain = svg.append("g");

// draw red first so the upper curves sit on top
const order = [4, 3, 2, 1, 0];
order.forEach(k => {
  const S = series[k];
  const sig = d3.scaleLinear().domain(sigmaS).range(S.sig);
  const withBar = (s, v) => {
    const r = Math.pow(10, sig(s) - v);
    const hi = Math.min(yMax, v + Math.log10(1 + r));
    const lo = Math.max(yMin, r < 1 ? Math.max(v + Math.log10(1 - r), v - barCap[k]) : v - barCap[k]);
    return { s, v, hi, lo };
  };
  const rows = S.pts.map((v, i) => withBar(mainStart + i * mainStep, v))
    .concat(S.wide.map((v, i) => withBar(wideStart + i * wideStep, v)))
    .sort((a, b) => a.s - b.s);
  const g = gMain.append("g");
  g.selectAll("line").data(rows).join("line")
    .attr("x1", d => x(d.s)).attr("x2", d => x(d.s))
    .attr("y1", d => y(d.hi)).attr("y2", d => y(d.lo))
    .attr("stroke", barColor[k]).attr("stroke-width", 1).attr("opacity", 0.6);
  g.selectAll("circle").data(rows).join("circle")
    .attr("cx", d => x(d.s)).attr("cy", d => y(d.v)).attr("r", 3.5)
    .attr("fill", dotColor[k]);
});

const fitLine = d3.line().x(d => x(d[0])).y(d => y(d[1])).curve(d3.curveCatmullRom.alpha(0.5));
series.forEach(S => {
  gMain.append("path").attr("d", fitLine(fitS.map((s, i) => [s, S.fit[i]])))
    .attr("fill", "none").attr("stroke", "#111").attr("stroke-width", 3.2);
});

// curve numbers
const labelV = [2.1, 1.07, 0.1, -1.15, -2.45];
curveLabels.forEach((t, i) => {
  svg.append("text").attr("x", 187).attr("y", y(labelV[i]))
    .attr("text-anchor", "middle").attr("font-size", 24).attr("font-style", "italic").text(t);
});

// axes
const yAxis = svg.append("g").attr("transform", "translate(63,0)")
  .call(d3.axisLeft(y).tickValues(mainTicksY).tickFormat(d => String(d)).tickSize(10).tickSizeOuter(0).tickPadding(12));
const xAxis = svg.append("g").attr("transform", "translate(0,935)")
  .call(d3.axisBottom(x).tickValues(mainTicksX).tickFormat(d3.format(".1f")).tickSize(10).tickSizeOuter(0).tickPadding(16));
[yAxis, xAxis].forEach(a => {
  a.select(".domain").attr("stroke", "#1a1a1a").attr("stroke-width", 2);
  a.selectAll(".tick line").attr("stroke", "#1a1a1a").attr("stroke-width", 2);
  a.selectAll(".tick text").attr("font-size", 22).attr("font-family", "Lato, sans-serif").attr("fill", "#222");
});

svg.append("text").attr("x", 10).attr("y", 212).attr("font-size", 24).text(axisTitleY);
const sLab = svg.append("text").attr("x", 400).attr("y", 1022).attr("font-size", 23);
sLab.append("tspan").text("s, ");
sLab.append("tspan").attr("font-family", "'Liberation Serif', serif").text("Å");
sLab.append("tspan").attr("font-size", 15).attr("dy", -10).text("-1");

// ---------- inset ----------
const xi = d3.scaleLinear().domain([0.02, 0.16]).range([295, 620]);
const yi = d3.scaleLinear().domain([-3, -1.479]).range([352, 60]);
const gIn = svg.append("g");
[0, 1, 2, 3, 4].forEach(k => {
  const rows = series[k].inset.map((v, i) => ({ s: insetStart + i * insetStep, v }));
  gIn.append("g").selectAll("circle").data(rows).join("circle")
    .attr("cx", d => xi(d.s)).attr("cy", d => yi(d.v)).attr("r", 3.3)
    .attr("fill", dotColor[k]);
});
const yiAxis = svg.append("g").attr("transform", "translate(295,0)")
  .call(d3.axisLeft(yi).tickValues(insetTicksY).tickFormat(d => String(d)).tickSize(6).tickSizeOuter(0).tickPadding(11));
const xiAxis = svg.append("g").attr("transform", "translate(0,352)")
  .call(d3.axisBottom(xi).tickValues(insetTicksX).tickFormat(d3.format(".2f")).tickSize(6).tickSizeOuter(0).tickPadding(11));
[yiAxis, xiAxis].forEach(a => {
  a.select(".domain").attr("stroke", "#333").attr("stroke-width", 1.5);
  a.selectAll(".tick line").attr("stroke", "#333").attr("stroke-width", 1.5);
  a.selectAll(".tick text").attr("font-size", 20).attr("font-family", "Lato, sans-serif").attr("fill", "#222");
});
svg.append("text").attr("x", 258).attr("y", 34).attr("font-size", 24).text(axisTitleY);
const sLab2 = svg.append("text").attr("x", 531).attr("y", 434).attr("font-size", 23);
sLab2.append("tspan").text("s, ");
sLab2.append("tspan").attr("font-family", "'Liberation Serif', serif").text("Å");
sLab2.append("tspan").attr("font-size", 15).attr("dy", -10).text("-1");
</script>
</body>
</html>
